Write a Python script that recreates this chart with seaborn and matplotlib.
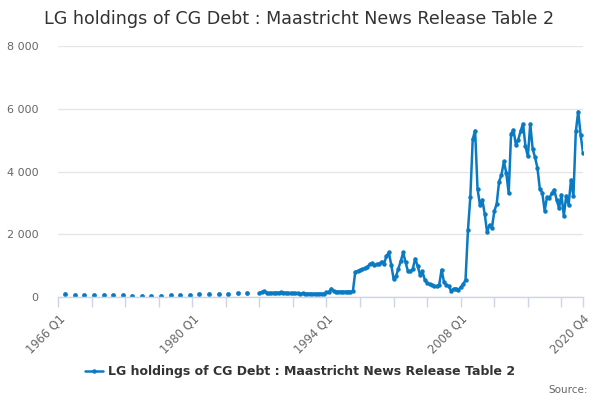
import numpy as np
import pandas as pd
import matplotlib
matplotlib.use("Agg")
import matplotlib.pyplot as plt
import seaborn as sns
from matplotlib.lines import Line2D

sns.set_theme(style="white")
plt.rcParams['font.family'] = ['DejaVu Sans']

# data (GBP million)
annual_years = list(range(1966, 1986))
annual_values = [80, 70, 60, 60, 55, 55, 50, 45, 45, 45,
                 45, 55, 75, 75, 80, 85, 95, 105, 115, 120]

quarterly_start = 1987  # first quarterly value is 1987 Q1
quarterly_values = [
    130, 150, 190, 140,     # 1987
    120, 130, 135, 140,     # 1988
    140, 145, 140, 135,     # 1989
    130, 120, 125, 115,     # 1990
    120, 110, 115, 110,     # 1991
    105, 110, 100, 105,     # 1992
    100, 105, 110, 100,     # 1993
    150, 160, 270, 190,     # 1994
    175, 170, 175, 170,     # 1995
    170, 175, 170, 180,     # 1996
    800, 820, 860, 880,     # 1997
    920, 960, 1040, 1080,   # 1998
    1020, 1040, 1060, 1130, # 1999
    1060, 1300, 1420, 1030, # 2000
    575, 660, 900, 1150,    # 2001
    1420, 1100, 815, 815,   # 2002
    900, 1220, 1000, 710,   # 2003
    815, 550, 450, 400,     # 2004
    370, 350, 340, 380,     # 2005
    870, 480, 390, 340,     # 2006
    200, 260, 270, 230,     # 2007
    310, 400, 550, 2120,    # 2008
    3185, 5030, 5305, 3450, # 2009
    2940, 3100, 2650, 2060, # 2010
    2300, 2200, 2730, 2970, # 2011
    3680, 3895, 4320, 3950, # 2012
    3310, 5200, 5330, 4850, # 2013
    5010, 5300, 5520, 4800, # 2014
    4480, 5520, 4715, 4450, # 2015
    4110, 3440, 3330, 2750, # 2016
    3185, 3150, 3310, 3420, # 2017
    3100, 2835, 3260, 2590, # 2018
    3225, 2940, 3735, 3205, # 2019
    5275, 5910, 5170, 4605, # 2020
]

series_name = "LG holdings of CG Debt : Maastricht News Release Table 2"
title = "LG holdings of CG Debt : Maastricht News Release Table 2"
tick_labels = {1966.0: "1966 Q1", 1980.0: "1980 Q1", 1994.0: "1994 Q1",
               2008.0: "2008 Q1", 2020.75: "2020 Q4"}

blue = "#0a7ac3"
axis_col = "#ccd6eb"
label_col = "#666666"

annual_df = pd.DataFrame({"date": np.array(annual_years) + 0.75,
                          "value": annual_values})
quarter_df = pd.DataFrame({"date": quarterly_start + np.arange(len(quarterly_values)) / 4,
                           "value": quarterly_values})

fig = plt.figure(figsize=(6, 4), dpi=100)
ax = fig.add_axes([58 / 600, 1 - 297 / 400, (583 - 58) / 600, (297 - 46) / 400])

sns.lineplot(data=quarter_df, x="date", y="value", ax=ax, color=blue,
             linewidth=1.8, marker="o", markersize=3.2, markeredgewidth=0)
sns.scatterplot(data=annual_df, x="date", y="value", ax=ax, color=blue,
                s=12, linewidth=0)

ax.set_xlim(1966, 2020.75)
ax.set_ylim(0, 8000)

# y axis
ax.set_yticks([0, 2000, 4000, 6000, 8000])
ax.set_yticklabels([f"{v:,}".replace(",", " ") for v in [0, 2000, 4000, 6000, 8000]])
ax.yaxis.grid(True, color="#e6e6e6", linewidth=1)
ax.tick_params(axis="y", length=0, labelsize=8, labelcolor=label_col, pad=14)

# x axis: ticks every 3.5 years, labels every 14 + last quarter
xt = [1966 + 3.5 * k for k in range(16)] + [2020.75]
xl = [tick_labels.get(t, "") for t in xt]
ax.set_xticks(xt)
ax.set_xticklabels(xl, rotation=45, ha="right", rotation_mode="anchor")
ax.tick_params(axis="x", direction="out", length=7, width=1, color=axis_col,
               labelsize=8.3, labelcolor=label_col, pad=4, bottom=True)

for side in ["top", "right", "left"]:
    ax.spines[side].set_visible(False)
ax.spines["bottom"].set_color(axis_col)
ax.spines["bottom"].set_linewidth(1)
ax.set_xlabel("")
ax.set_ylabel("")

fig.text(0.5 - 1 / 600, 1 - 19 / 400, title, ha="center", va="center",
         fontsize=12.6, color="#333333")

handle = Line2D([0], [0], color=blue, linewidth=1.8, marker="o",
                markersize=3.2, markeredgewidth=0)
fig.legend([handle], [series_name], loc="center", bbox_to_anchor=(0.5, 1 - 372 / 400),
           frameon=False, handlelength=1.4, handletextpad=0.4,
           prop={"weight": "bold", "size": 9}, labelcolor="#333333")

fig.text(588 / 600, 1 - 390 / 400, "Source:", ha="right", va="center",
         fontsize=7.5, color="#666666")

fig.savefig("out.png", dpi=100)
